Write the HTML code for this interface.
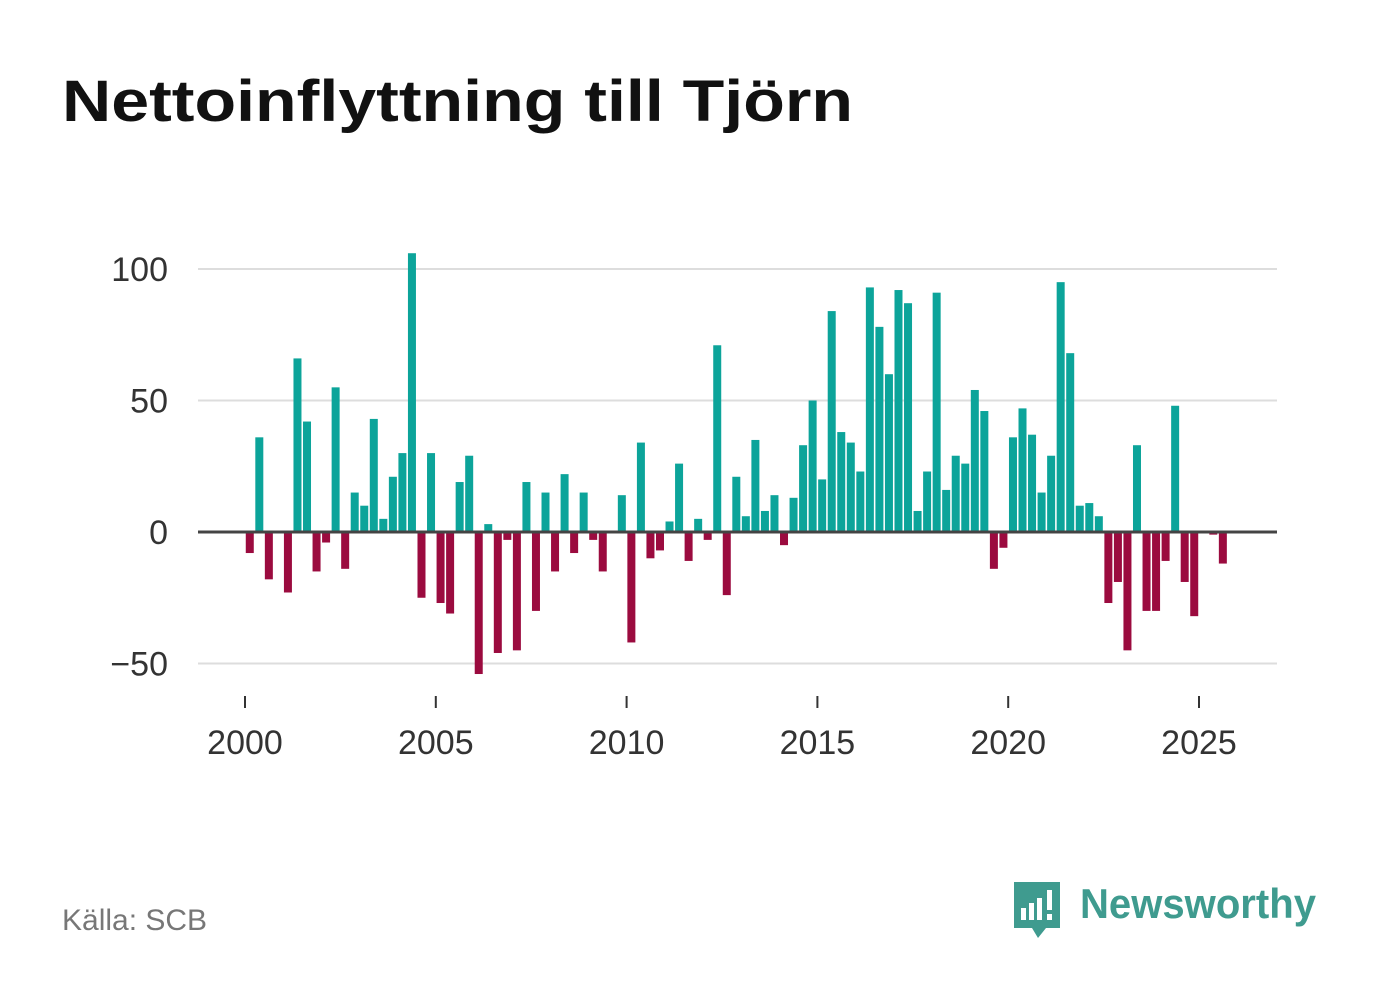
<!DOCTYPE html>
<html><head><meta charset="utf-8"><style>
body{margin:0;background:#fff;width:1382px;height:999px;overflow:hidden;font-family:"Liberation Sans","DejaVu Sans",sans-serif}
</style></head><body>
<svg width="1382" height="999">
<text x="62" y="121" font-size="58" font-weight="bold" fill="#111" textLength="791" lengthAdjust="spacingAndGlyphs">Nettoinflyttning till Tjörn</text>
<g id="grid"></g><g id="bars"></g><g id="axes"></g>
<text x="62" y="930" font-size="30" fill="#777">Källa: SCB</text>
<g>
<path d="M1014 882 h46 v46 h-14 l-8 10 l-6 -10 h-18 z" fill="#3f9b8f"/>
<rect x="1021" y="908" width="5" height="12" fill="#fff"/><rect x="1029" y="903" width="5" height="17" fill="#fff"/><rect x="1037" y="898" width="5" height="22" fill="#fff"/><rect x="1047" y="890" width="5" height="20" fill="#fff"/><rect x="1047" y="914" width="5" height="6" fill="#fff"/>
<text x="1080" y="918" font-size="42" font-weight="bold" fill="#3f9b8f" textLength="236" lengthAdjust="spacingAndGlyphs">Newsworthy</text>
</g>
</svg>
<script>
const years=[2000,2005,2010,2015,2020,2025];
const yTicks=[100,50,0,-50];
const yTickLabels=["100","50","0","−50"];
const values=[-8,36,-18,0,-23,66,42,-15,-4,55,-14,15,10,43,5,21,30,106,-25,30,-27,-31,19,29,-54,3,-46,-3,-45,19,-30,15,-15,22,-8,15,-3,-15,0,14,-42,34,-10,-7,4,26,-11,5,-3,71,-24,21,6,35,8,14,-5,13,33,50,20,84,38,34,23,93,78,60,92,87,8,23,91,16,29,26,54,46,-14,-6,36,47,37,15,29,95,68,10,11,6,-27,-19,-45,33,-30,-30,-11,48,-19,-32,0,-1,-12];
const NS="http://www.w3.org/2000/svg";
const xs=t=>245+(t-2000)*38.16;
const ys=v=>532-v*2.63;
function mk(tag,attrs,parent,txt){const e=document.createElementNS(NS,tag);for(const k in attrs)e.setAttribute(k,attrs[k]);if(txt!=null)e.textContent=txt;document.getElementById(parent).appendChild(e);return e;}
yTicks.forEach((v,i)=>{
 if(v!==0){const l=mk('line',{x1:198,x2:1277,y1:ys(v),y2:ys(v),stroke:'#ddd','stroke-width':2},'grid');
 
 }
 const t=mk('text',{x:168,y:ys(v)+12,'font-size':34,fill:'#333','text-anchor':'end'},'axes',yTickLabels[i]);
 
 
});
values.forEach((v,i)=>{
 const c=xs(2000+i*0.25+0.125);
 const y0=ys(Math.max(v,0)),h=Math.abs(ys(v)-ys(0));
 const r=mk('rect',{x:c-4,y:y0,width:8,height:h,fill:v>=0?'#0ca49a':'#9b0b3f'},'bars');
 
 
});
const z=mk('line',{x1:198,x2:1277,y1:ys(0),y2:ys(0),stroke:'#444','stroke-width':3},'axes');


years.forEach(y=>{
 const tk=mk('line',{x1:xs(y),x2:xs(y),y1:696,y2:708,stroke:'#333','stroke-width':2},'axes');
 
 
 const t=mk('text',{x:xs(y),y:754,'font-size':34,fill:'#333','text-anchor':'middle'},'axes',String(y));
 
 
});
</script>
</body></html>
